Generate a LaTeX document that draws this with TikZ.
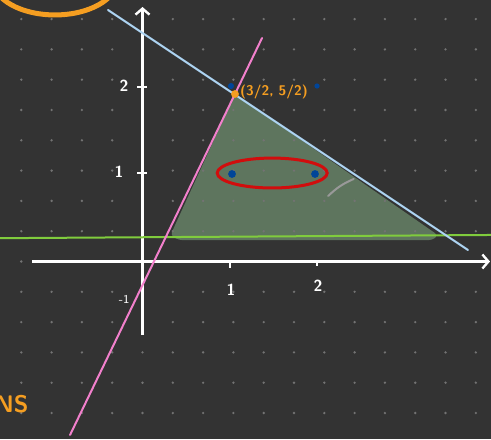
\documentclass[tikz,border=0pt]{standalone}
\usepackage{tikz}
\usetikzlibrary{arrows.meta}
\definecolor{boardgrey}{rgb}{0.2,0.2,0.2}
\definecolor{dotgrey}{rgb}{0.45,0.45,0.45}
\definecolor{regiongreen}{rgb}{0.37,0.46,0.37}
\definecolor{lineblue}{rgb}{0.68,0.83,0.95}
\definecolor{linepink}{rgb}{0.95,0.5,0.8}
\definecolor{linegreen}{rgb}{0.5,0.8,0.24}
\definecolor{markred}{rgb}{0.82,0.05,0.05}
\definecolor{markorange}{rgb}{0.96,0.62,0.13}
\definecolor{pointblue}{rgb}{0.0,0.27,0.6}
\tikzset{
  axisline/.style={draw=white, line width=1.2pt, -{Straight Barb[length=3pt,width=7pt]}},
  ticklabel/.style={font=\sffamily\bfseries\fontsize{8}{8}\selectfont, text=white, inner sep=0pt},
  penline/.style={line width=1pt, line cap=round},
}

\begin{document}
\begin{tikzpicture}[x=43.5pt, y=43.5pt]
    \fill[boardgrey] (-1.638,-2.0402) rectangle (4.0057,3.0057);
    \clip (-1.638,-2.0402) rectangle (4.0057,3.0057);
    \begin{scope}
% shaded region
\fill[regiongreen, rounded corners=2pt] (1.063,1.925) -- (3.40,0.30) -- (3.33,0.245) -- (0.42,0.245) -- (0.32,0.30) -- cycle;
% dot grid
\foreach \i in {-4,...,11}
  \foreach \j in {-5,...,8}
    \fill[dotgrey] (\i*0.3483,\j*0.3483) circle (0.015);
% axes
\draw[axisline] (-1.27,0) -- (3.994,0);
\draw[axisline] (0,-0.845) -- (0,2.925);
\draw[white, line width=1pt] (-0.06,2.01) -- (0.05,2.01);
\draw[white, line width=1pt] (-0.06,1.02) -- (0.05,1.02);
\draw[white, line width=1pt] (1.0,0) -- (1.0,-0.08);
\draw[white, line width=1pt] (2.0,0) -- (2.0,-0.05);
\node[ticklabel] (ylab2) at (-0.213,2.017) {2};
\node[ticklabel] (ylab1) at (-0.27,1.029) {1};
\node[ticklabel, font=\sffamily\fontsize{6}{6}\selectfont] (ylabm1) at (-0.211,-0.431) {-1};
\node[ticklabel] (xlab1) at (1.017,-0.328) {1};
\node[ticklabel] (xlab2) at (2.017,-0.282) {2};
% lines
\draw[penline, draw=linegreen] (-1.64,0.268) -- (4.01,0.305);
\draw[penline, draw=lineblue] (-0.397,2.891) -- (3.741,0.132);
\draw[penline, draw=linepink] (-0.833,-1.994) -- (1.374,2.569);
\draw[penline, draw=lightgray!80!black] (2.134,0.753) to[bend left=10] (2.428,0.949);
% marks
\draw[draw=markred, line width=1.5pt] (1.491,1.017) ellipse (0.632 and 0.172);
\fill[pointblue] (1.029,1.006) circle (0.045);
\fill[pointblue] (1.983,1.006) circle (0.045);
\fill[pointblue] (1.017,2.017) circle (0.035);
\fill[pointblue] (2.006,2.017) circle (0.03);
\fill[markorange] (1.063,1.925) circle (0.045);
\node[inner sep=0pt, text=markorange, font=\sffamily\bfseries\fontsize{7}{7}\selectfont] (vertexlab) at (1.511,1.945) {(3/2, 5/2)};
\draw[draw=markorange, line width=2.5pt] (-1.006,3.236) ellipse (0.713 and 0.402);
\node[inner sep=0pt, anchor=base east, text=markorange, font=\sffamily\bfseries\fontsize{12}{12}\selectfont] (anslab) at (-1.305,-1.730) {ANS};
    \end{scope}
\end{tikzpicture}
\end{document}
